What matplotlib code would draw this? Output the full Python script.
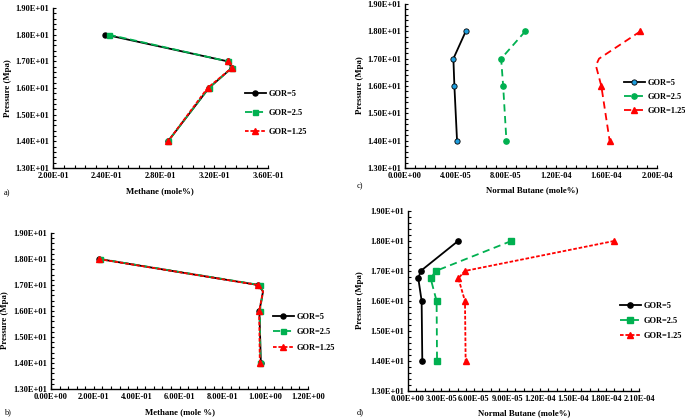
import matplotlib
matplotlib.use('Agg')
import matplotlib.pyplot as plt
from matplotlib.ticker import MultipleLocator, FormatStrFormatter

plt.rcParams['font.family'] = ['Liberation Serif', 'DejaVu Serif']
plt.rcParams['font.weight'] = 'bold'

W, H = 685, 419   # figure size in pixels (dpi 100)

### Data ######################################################################

labels = ['GOR=5', 'GOR=2.5', 'GOR=1.25']
pressure = [18.0, 17.0, 16.75, 16.0, 14.0]
pressure4 = [18.0, 17.0, 16.0, 14.0]

# a) Methane (mole%)
a_gor5 = [0.239, 0.330, 0.333, 0.316, 0.2856]
a_gor25 = [0.2415, 0.330, 0.333, 0.316, 0.2856]
a_gor125 = [0.3305, 0.333, 0.315, 0.2856]
a_p125 = [17.0, 16.75, 16.0, 14.0]

# b) Methane (mole %)
b_gor5 = [0.225, 0.968, 0.990, 0.973, 0.980]
b_gor25 = [0.230, 0.975, 0.990, 0.975, 0.978]
b_gor125 = [0.222, 0.966, 0.990, 0.972, 0.975]

# c) Normal Butane (mole%)
c_gor5 = [4.82e-5, 3.84e-5, 3.92e-5, 4.13e-5]
c_gor25 = [9.54e-5, 7.63e-5, 7.79e-5, 8.05e-5]
c_gor125 = [1.868e-4, 1.54e-4, 1.515e-4, 1.558e-4, 1.624e-4]

# d) Normal Butane (mole%)
d_gor5 = [4.55e-5, 1.15e-5, 0.94e-5, 1.24e-5, 1.30e-5]
d_gor25 = [9.39e-5, 2.52e-5, 2.06e-5, 2.60e-5, 2.64e-5]
d_gor125 = [1.873e-4, 5.15e-5, 4.58e-5, 5.18e-5, 5.24e-5]

black = 'black'
green = '#00B050'
red = '#FF0000'
blue = '#1F9EDE'

### Helpers ###################################################################

fig = plt.figure(figsize=(W / 100, H / 100), dpi=100)


def fx(px):
    return px / W


def fy(py):
    return 1 - py / H


def make_ax(left, right, top, bottom, xlim, xmajor, xminor):
    ax = fig.add_axes([fx(left), fy(bottom), fx(right - left), (bottom - top) / H])
    ax.set_xlim(*xlim)
    ax.set_ylim(13, 19)
    ax.xaxis.set_major_locator(MultipleLocator(xmajor))
    ax.xaxis.set_minor_locator(MultipleLocator(xminor))
    ax.yaxis.set_major_locator(MultipleLocator(1))
    ax.yaxis.set_minor_locator(MultipleLocator(0.2))
    ax.xaxis.set_major_formatter(FormatStrFormatter('%.2E'))
    ax.yaxis.set_major_formatter(FormatStrFormatter('%.2E'))
    ax.spines['top'].set_visible(False)
    ax.spines['right'].set_visible(False)
    for s in ['left', 'bottom']:
        ax.spines[s].set_linewidth(1.0)
    ax.tick_params(which='both', direction='in', length=2.5, width=0.8,
                   labelsize=6, pad=3)
    return ax


def add_legend(ax, x, y, spacing):
    ax.legend(loc='center left', bbox_to_anchor=(fx(x), fy(y)),
              bbox_transform=fig.transFigure, frameon=False, fontsize=6,
              handlelength=2.5, handletextpad=0.3, labelspacing=spacing,
              borderpad=0, borderaxespad=0, numpoints=1)


def texts(panel, xlab, xlab_pos, ylab_pos, panel_pos):
    fig.text(fx(xlab_pos[0]), fy(xlab_pos[1]), xlab, ha='center', va='center',
             fontsize=6.3, fontweight='bold')
    fig.text(fx(ylab_pos[0]), fy(ylab_pos[1]), 'Pressure (Mpa)', ha='center',
             va='center', rotation=90, fontsize=6.3, fontweight='bold')
    fig.text(fx(panel_pos[0]), fy(panel_pos[1]), panel, ha='left', va='center',
             fontsize=6, fontweight='normal')


### a) ########################################################################

ax = make_ax(53, 268, 8, 168, (0.20, 0.36), 0.04, 0.008)
ax.plot(a_gor5, pressure, color=black, lw=1.3, marker='o', ms=3.6, label=labels[0])
ax.plot(a_gor25, pressure, color=green, lw=1.3, dashes=(4, 2), marker='s', ms=3.6,
        label=labels[1])
ax.plot(a_gor125, a_p125, color=red, lw=1.3, dashes=(2, 1), marker='^', ms=3.8,
        label=labels[2])
add_legend(ax, 245, 113, 1.3)
texts('a)', 'Methane (mole%)', (160, 191), (8, 88), (4, 193))

### c) ########################################################################

ax = make_ax(405, 657, 4, 168, (0, 2.0e-4), 4.0e-5, 8.0e-6)
ax.plot(c_gor5, pressure4, color=black, lw=1.3, marker='o', ms=3.8, mfc=blue,
        mec=black, mew=0.6, label=labels[0])
ax.plot(c_gor25, pressure4, color=green, lw=1.3, dashes=(4, 2.5), marker='o',
        ms=3.8, label=labels[1])
ax.plot(c_gor125, pressure, color=red, lw=1.3, dashes=(4, 2.5), marker='^', ms=3.8,
        markevery=[0, 3, 4], label=labels[2])
add_legend(ax, 624, 97, 0.75)
texts('c)', 'Normal Butane (mole%)', (532, 190), (360, 85), (357, 186))

### b) ########################################################################

ax = make_ax(51, 308, 233, 389, (0, 1.2), 0.2, 0.04)
ax.plot(b_gor5, pressure, color=black, lw=1.3, marker='o', ms=3.6,
        markevery=[0, 1, 3, 4], label=labels[0])
ax.plot(b_gor25, pressure, color=green, lw=1.3, dashes=(4, 2), marker='s', ms=3.6,
        markevery=[0, 1, 3, 4], label=labels[1])
ax.plot(b_gor125, pressure, color=red, lw=1.3, dashes=(2, 1), marker='^', ms=3.8,
        markevery=[0, 1, 3, 4], label=labels[2])
add_legend(ax, 273, 332, 0.9)
texts('b)', 'Methane (mole %)', (180, 412), (5, 320), (4, 412))

### d) ########################################################################

ax = make_ax(408, 639, 211, 391, (0, 2.1e-4), 3.0e-5, 7.5e-6)
ax.plot(d_gor5, pressure, color=black, lw=1.3, marker='o', ms=3.8, label=labels[0])
ax.plot(d_gor25, pressure, color=green, lw=1.3, dashes=(4, 2.5), marker='s', ms=3.8,
        label=labels[1])
ax.plot(d_gor125, pressure, color=red, lw=1.3, dashes=(2, 1), marker='^', ms=3.8,
        label=labels[2])
add_legend(ax, 620, 321, 0.8)
texts('d)', 'Normal Butane (mole%)', (524, 413), (360, 300), (357, 412))

fig.savefig('out.png', dpi=100)
